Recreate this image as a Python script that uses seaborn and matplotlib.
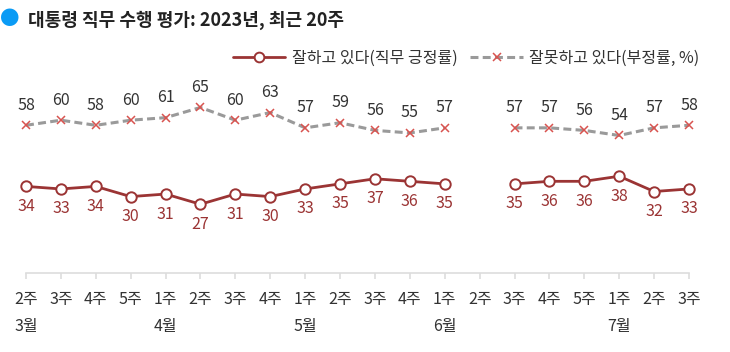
import numpy as np
import pandas as pd
import matplotlib.pyplot as plt
import seaborn as sns
from matplotlib.lines import Line2D

weeks = ["2주", "3주", "4주", "5주", "1주", "2주", "3주", "4주", "1주", "2주",
         "3주", "4주", "1주", "2주", "3주", "4주", "5주", "1주", "2주", "3주"]
months = {0: "3월", 4: "4월", 8: "5월", 12: "6월", 17: "7월"}

positive = [34, 33, 34, 30, 31, 27, 31, 30, 33, 35, 37, 36, 35,
            np.nan, 35, 36, 36, 38, 32, 33]
negative = [58, 60, 58, 60, 61, 65, 60, 63, 57, 59, 56, 55, 57,
            np.nan, 57, 57, 56, 54, 57, 58]

pos_label = "잘하고 있다(직무 긍정률)"
neg_label = "잘못하고 있다(부정률, %)"

sns.set_style("white")
plt.rcParams["font.family"] = ["Noto Sans CJK KR", "DejaVu Sans"]

RED = "#9b3434"
GRAY = "#9a9a9a"
XRED = "#d9534f"
TXT = "#333333"
FS = 11.5

df = pd.DataFrame({"x": np.arange(len(weeks)), "pos": positive, "neg": negative})
# split into segments at the missing week
df["seg"] = df["pos"].isna().cumsum()
df = df.dropna()

fig = plt.figure(figsize=(7.30, 3.52), dpi=100)
ax = fig.add_axes([26 / 730, 79 / 352, 663 / 730, 191 / 352])

for _, part in df.groupby("seg"):
    sns.lineplot(data=part, x="x", y="neg", ax=ax, color=GRAY, lw=2.2,
                 dashes=False, linestyle=(0, (2.6, 1.4)), marker="x",
                 markersize=6, markeredgewidth=1.1, markeredgecolor=XRED,
                 clip_on=False, zorder=3)
    sns.lineplot(data=part, x="x", y="pos", ax=ax, color=RED, lw=2.0,
                 marker="o", markersize=7.5, markerfacecolor="white",
                 markeredgecolor=RED, markeredgewidth=1.4,
                 clip_on=False, zorder=4)

for _, r in df.iterrows():
    ax.annotate(f"{r['neg']:.0f}", (r["x"], r["neg"]), xytext=(0, 20),
                textcoords="offset pixels", ha="center", va="center",
                fontsize=FS, color=TXT)
    ax.annotate(f"{r['pos']:.0f}", (r["x"], r["pos"]), xytext=(0, -20),
                textcoords="offset pixels", ha="center", va="center",
                fontsize=FS, color=RED)

ax.set_xlim(0, len(weeks) - 1)
ax.set_ylim(0, 75)
ax.set_xticks(range(len(weeks)))
ax.set_xticklabels(weeks, fontsize=FS, color=TXT)
ax.set_yticks([])
ax.set_xlabel("")
ax.set_ylabel("")
for side in ["left", "right", "top"]:
    ax.spines[side].set_visible(False)
ax.spines["bottom"].set_color("#dddddd")
ax.spines["bottom"].set_linewidth(1.2)
ax.tick_params(axis="x", bottom=True, length=4, width=1.2, color="#dddddd", pad=9)

for i, m in months.items():
    ax.annotate(m, (i, 0), xytext=(0, -53), textcoords="offset pixels",
                ha="center", va="center", fontsize=FS, color=TXT,
                annotation_clip=False)

# title
fig.text(10 / 730, 1 - 20 / 352, "●", color="#0a9bf5", fontsize=14,
         ha="center", va="center")
fig.text(28 / 730, 1 - 20 / 352, "대통령 직무 수행 평가: 2023년, 최근 20주",
         fontsize=13, fontweight="bold", color="#222222", va="center")

handles = [
    Line2D([], [], color=RED, lw=2.0, marker="o", markersize=7,
           markerfacecolor="white", markeredgecolor=RED, markeredgewidth=1.4),
    Line2D([], [], color=GRAY, lw=2.2, linestyle=(0, (2.6, 1.4)), marker="x",
           markersize=6, markeredgecolor=XRED, markeredgewidth=1.1),
]
fig.legend(handles, [pos_label, neg_label], ncol=2, frameon=False,
           loc="center right", bbox_to_anchor=(706 / 730, 1 - 58 / 352),
           fontsize=FS, handlelength=3.3, columnspacing=0.8,
           handletextpad=0.4, labelcolor=TXT, borderaxespad=0)

fig.savefig("out.png", dpi=100)
